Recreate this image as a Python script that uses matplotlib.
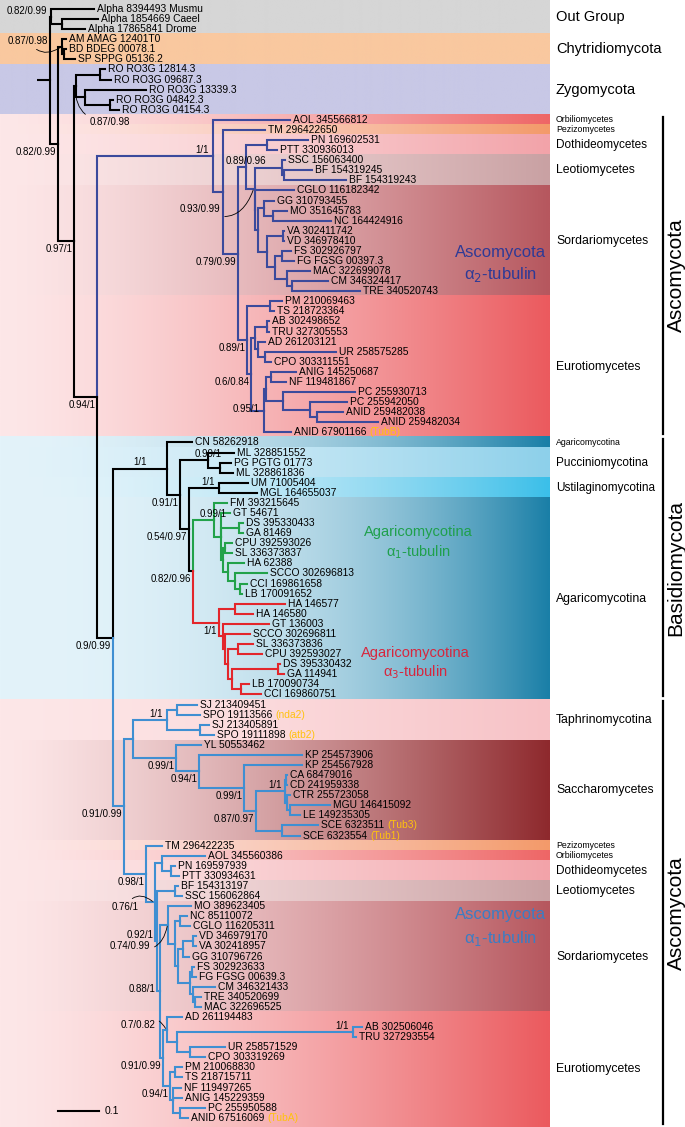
import numpy as np
import matplotlib
matplotlib.use('Agg')
import matplotlib.pyplot as plt
from matplotlib.colors import to_rgb

plt.rcParams['font.family'] = ['Liberation Sans', 'DejaVu Sans']

# ---- tree data (branch lengths in 0.001 substitutions/site) ----
OUTGROUP = "('Alpha 8394493 Musmu':105,('Alpha 1854669 Caeel':88,'Alpha 17865841 Drome':56)OG2:27)OG"
CHYTRID = "('AM AMAG 12401T0':10,('BD BDEG 00078.1':5,'SP SPPG 05136.2':27)CH2:5)CHY"
ZYGO = ("(('RO RO3G 12814.3':12,'RO RO3G 09687.3':27)Z1:59,"
        "('RO RO3G 13339.3':149,('RO RO3G 04842.3':7,'RO RO3G 04154.3':22)Z3:61)Z2:22)ZYG")

ASCO_A2 = ("('AOL 345566812':188,('TM 296422650':102,"
           "((('PN 169602531':100,'PTT 330936013':24)PNP:51,"
           "(('SSC 156063400':7,('BF 154319245':68,'BF 154319243':151)BFP:5)LEO:66,"
           "('CGLO 116182342':95,(('GG 310793455':24,('MO 351645783':32,'NC 164424916':141)MON:22)GGG:15,"
           "(('VA 302411742':2,'VD 346978410':2)VAV:39,(('FS 302926797':22,'FG FGSG 00397.3':29)FSF:17,"
           "('MAC 322699078':56,('CM 346324417':88,'TRE 340520743':166)CMT:12)MCG:29)F2:20)F1:22)S2:7)S1:2)L93:20)U:20,"
           "(('PM 210069463':29,'TS 218723364':10)PMT:56,"
           "((('AB 302498652':5,'TRU 327305553':5)ABT:29,('AD 261203121':17,('UR 258575285':173,'CPO 303311551':15)URC:17)AG2:7)AG:10,"
           "((('ANIG 145250687':63,'NF 119481867':37)ANF:10,('PC 255930713':176,('PC 255942050':90,"
           "('ANID 259482038':63,'ANID 259482034':149)PCC:17)PCB:66)PCG:41)AN1:5,'ANID 67901166':66)AN:32)E1:10)E0:22)A2C:37)A2B:24)A2")

BASIDIO = ("('CN 58262918':61,(('ML 328851552':63,('PG PGTG 01773':27,'ML 328861836':32)PGM:29)RUS:68,"
           "(('UM 71005404':71,'MGL 164655037':93)UST:73,"
           "(('FM 393215645':32,('GT 54671':24,('DS 395330433':10,'GA 81469':10)DSG:44,"
           "(('CPU 392593026':15,'SL 336373837':15)CPS:5,('HA 62388':39,('SCCO 302696813':78,"
           "('CCI 169861658':17,'LB 170091652':5)CLB:12)G4:17)G3:12)G2:7)G1:17)G0:49,"
           "(('HA 146577':120,'HA 146580':44)HAP:41,('GT 136003':110,('SCCO 302696811':61,"
           "(('SL 336373836':37,'CPU 392593027':59)SLC:24,(('DS 395330432':5,'GA 114941':15)DSG2:110,"
           "('LB 170090734':20,'CCI 169860751':49)LCC:20)RD4:10)RD3:7)RD2:5)RD1:12)RD0:61)AGA:12)B2:20)B1:32)B0")

TAPHRINA = ("(('SJ 213409451':49,'SPO 19113566':56)SJ1:24,"
            "('SJ 213405891':22,'SPO 19111898':34)SJ2:80)TAP:83")
SACCHARO = ("('YL 50553462':61,('KP 254573906':251,('KP 254567928':141,"
            "((('CA 68479016':2,'CD 241959338':2)CAD:2,('CTR 255723058':7,"
            "('MGU 146415092':98,'LE 149235305':24)MGL:7)CA2:5)CAN:71,"
            "('SCE 6323511':88,'SCE 6323554':44)SCE:63)SA3:29)SA2:110)SA1:56)SA0:105")
SORDARIO = ("('MO 389623405':54,(('NC 85110072':17,'CGLO 116205311':24)NCC:12,"
            "((('VD 346979170':7,'VA 302418957':7)VDV:24,'GG 310796726':15)VDG:12,"
            "(('FS 302923633':5,'FG FGSG 00639.3':10)FSF2:5,('CM 346321433':54,"
            "('TRE 340520699':15,'MAC 322696525':15)TRM:5)CTM:7)S4B:29)S3B:7)S2B:17)SORD:20")
EUROTIO = ("(('AD 261194483':37,(('AB 302506046':22,'TRU 327293554':7)ABT2:429,"
           "('UR 258571529':85,'CPO 303319269':37)URC2:32)E2B:24)E1B:10,"
           "(('PM 210068830':17,'TS 218715711':17)PMT2:12,('NF 119497265':20,'ANIG 145229359':22,"
           "('PC 255950588':61,'ANID 67516069':20)PCA:17)NAP:7)E3B:17)EURO:7")
PEZIZO_ETC = ("('TM 296422235':37,(('AOL 345560386':105,('PN 169597939':12,'PTT 330934631':20)PNP2:22)P2:17,"
              "(('BF 154313197':7,'SSC 156062864':15)LEO2:44,(" + SORDARIO + "," + EUROTIO + ")P4:7)P3:7)P1:20)P0:54")
ASCO_A1 = "((" + TAPHRINA + "," + SACCHARO + ")TSN:22," + PEZIZO_ETC + ")A0"

TREE = ("(" + OUTGROUP + ":2,(" + CHYTRID + ":10,(" + ZYGO + ":5,(" + ASCO_A2 + ":283,("
        + BASIDIO + ":132," + ASCO_A1 + ":27)R4:39)R3:56)R2:39)R1:20)ROOT:32")

TAGS = {'ANID 67901166': '(TubB)', 'SPO 19113566': '(nda2)', 'SPO 19111898': '(atb2)',
        'SCE 6323511': '(Tub3)', 'SCE 6323554': '(Tub1)', 'ANID 67516069': '(TubA)'}

SUPPORT = {
    'OG': '0.82/0.99', 'CHY': '0.87/0.98', 'R1': '0.82/0.99', 'ZYG': '0.87/0.98',
    'R2': '0.97/1', 'R3': '0.94/1', 'R4': '0.9/0.99',
    'A2': '1/1', 'U': '0.89/0.96', 'L93': '0.93/0.99', 'A2C': '0.79/0.99', 'E0': '0.89/1',
    'E1': '0.6/0.84', 'AN': '0.95/1',
    'B0': '1/1', 'RUS': '0.99/1', 'B1': '0.91/1', 'UST': '1/1', 'B2': '0.54/0.97',
    'G0': '0.99/1', 'AGA': '0.82/0.96', 'RD0': '1/1',
    'A0': '0.91/0.99', 'TAP': '1/1', 'SA0': '0.99/1', 'SA1': '0.94/1', 'SA2': '0.99/1',
    'CAN': '1/1', 'SA3': '0.87/0.97',
    'P0': '0.98/1', 'P1': '0.76/1', 'P3': '0.92/1', 'SORD': '0.74/0.99', 'P4': '0.88/1',
    'E1B': '0.7/0.82', 'EURO': '0.91/0.99', 'E3B': '0.94/1', 'ABT2': '1/1'}

BAND_NAMES = ['Out Group', 'Chytridiomycota', 'Zygomycota',
              'Orbiliomycetes', 'Pezizomycetes', 'Dothideomycetes', 'Leotiomycetes',
              'Sordariomycetes', 'Eurotiomycetes',
              'Agaricomycotina', 'Pucciniomycotina', 'Ustilaginomycotina', 'Agaricomycotina',
              'Taphrinomycotina', 'Saccharomycetes', 'Pezizomycetes', 'Orbiliomycetes',
              'Dothideomycetes', 'Leotiomycetes', 'Sordariomycetes', 'Eurotiomycetes']
BAND_LEAVES = [3, 3, 5, 1, 1, 2, 3, 11, 14, 1, 3, 2, 20, 4, 10, 1, 1, 2, 2, 11, 11]
PHYLA = ['Ascomycota', 'Basidiomycota', 'Ascomycota']
PHYLUM_BANDS = [(3, 8), (9, 12), (13, 20)]

# ---- styles ----
CLADE_COLOURS = {'A2': '#3b4a9c', 'A0': '#3f8fd2', 'G0': '#22a24a', 'RD0': '#e3262b'}
ASC_L, BAS_L = '#fde7e8', '#e3f3fa'
BAND_STYLE = [('#d6d6d6', '#d6d6d6', 1), ('#f9c89f', '#f9c89f', 1), ('#c8c8e6', '#c8c8e6', 1),
              (ASC_L, '#ee6666', 1.4), (ASC_L, '#f39a6a', 1.4), (ASC_L, '#f2a3a9', 1.4),
              (ASC_L, '#c9a1a3', 1.4), (ASC_L, '#b6575e', 1.4), (ASC_L, '#eb5a5e', 1.4),
              (BAS_L, '#1a7fa7', 2.0), (BAS_L, '#8dd0ea', 1.5), (BAS_L, '#3bbfe9', 2.0),
              (BAS_L, '#1a7fa7', 2.5),
              (ASC_L, '#f7c2c6', 1.4), (ASC_L, '#8e292d', 1.4), (ASC_L, '#f39a6a', 1.4),
              (ASC_L, '#ee6666', 1.4), (ASC_L, '#f2a3a9', 1.4), (ASC_L, '#c9a1a3', 1.4),
              (ASC_L, '#b6575e', 1.4), (ASC_L, '#eb5a5e', 1.4)]
BAND_FONT = [10.5, 10.5, 10.5, 6.3, 6.3, 8.5, 8.8, 8.8, 8.8, 6.3, 8.5, 8.5, 8.8,
             8.8, 8.8, 6.3, 6.3, 8.5, 8.8, 8.8, 8.8]
PLACE = {'OG': 'ul', 'A2': 'ul', 'UST': 'ul', 'TAP': 'ul', 'CAN': 'ul', 'ABT2': 'ul', 'P3': 'ul',
         'U': 'c', 'RUS': 'c', 'G0': 'c', 'B0': 'stem', 'AN': 'l', 'P4': 'l'}
CURVED = {'CHY': (-14, -6, 0.5), 'ZYG': (13, 36, -0.5), 'L93': (-34, 20, 0.6),
          'P1': (-16, 5, -0.6), 'SORD': (-18, 21, 0.6), 'E1B': (-12, -5, -0.6)}
LEAF_FS, SUPPORT_FS = 7.4, 7.0

W, H = 685, 1127
PX_PER_UNIT = 0.41      # pixels per 0.001 substitutions
ROOT_X = 50
ROW0, ROW_STEP = 9, 10.08
BAND_END = 550


def parse(s):
    pos = 0

    def node():
        nonlocal pos
        n = {'children': [], 'name': '', 'length': 0.0}
        if s[pos] == '(':
            pos += 1
            while True:
                n['children'].append(node())
                ch = s[pos]
                pos += 1
                if ch == ')':
                    break
        if pos < len(s) and s[pos] == "'":
            end = s.index("'", pos + 1)
            n['name'] = s[pos + 1:end]
            pos = end + 1
        else:
            start = pos
            while pos < len(s) and s[pos] not in ":,()":
                pos += 1
            n['name'] = s[start:pos]
        if pos < len(s) and s[pos] == ':':
            pos += 1
            start = pos
            while pos < len(s) and s[pos] not in ",()":
                pos += 1
            n['length'] = float(s[start:pos])
        return n
    return node()


leaves = []


def place(n, x, colour):
    n['x'] = x
    n['colour'] = CLADE_COLOURS.get(n['name'], colour)
    if n['children']:
        for c in n['children']:
            place(c, x + c['length'] * PX_PER_UNIT, n['colour'])
        n['y'] = (n['children'][0]['y'] + n['children'][-1]['y']) / 2
    else:
        n['y'] = ROW0 + len(leaves) * ROW_STEP
        leaves.append(n)


root = parse(TREE)
place(root, ROOT_X, 'black')

fig = plt.figure(figsize=(W / 100, H / 100), dpi=100)
ax = fig.add_axes([0, 0, 1, 1])
ax.axis('off')


def gradient(left, right, gamma):
    t = np.linspace(0, 1, 256) ** gamma
    l, r = np.array(to_rgb(left)), np.array(to_rgb(right))
    return (l[None, :] * (1 - t[:, None]) + r[None, :] * t[:, None])[None, :, :]


# background bands
edges = []
start = 0
for i, (name, n) in enumerate(zip(BAND_NAMES, BAND_LEAVES)):
    y0 = 0 if i == 0 else ROW0 + (start - 0.5) * ROW_STEP
    y1 = H if i == len(BAND_NAMES) - 1 else ROW0 + (start + n - 0.5) * ROW_STEP
    edges.append((y0, y1))
    left, right, gam = BAND_STYLE[i]
    ax.imshow(gradient(left, right, gam), extent=(0, BAND_END, y1, y0), aspect='auto',
              interpolation='bilinear', zorder=0)
    ax.text(556, (y0 + y1) / 2, name, fontsize=BAND_FONT[i], va='center', ha='left')
    start += n

for name, (a, b) in zip(PHYLA, PHYLUM_BANDS):
    y0, y1 = edges[a][0] + 2, edges[b][1] - 3
    ax.plot([663, 663], [y0, y1], color='black', lw=1.6)
    ax.text(676, (y0 + y1) / 2, name, rotation=90, fontsize=15, ha='center', va='center')


def support_label(n, parent):
    lab = SUPPORT.get(n['name'])
    if not lab:
        return
    x, y = n['x'], n['y']
    kw = dict(fontsize=SUPPORT_FS, va='center', zorder=4)
    if n['name'] in CURVED:
        dx, dy, rad = CURVED[n['name']]
        ax.annotate(lab, xy=(x - 1, y), xytext=(x + dx, y + dy), textcoords='data',
                    ha='left' if dx > 0 else 'right',
                    arrowprops=dict(arrowstyle='-', lw=0.6, color='black',
                                    connectionstyle='arc3,rad=%s' % rad,
                                    shrinkA=1, shrinkB=1), **kw)
        return
    style = PLACE.get(n['name'], 'll')
    if style == 'll':
        ax.text(x - 2, y + 8, lab, ha='right', **kw)
    elif style == 'ul':
        ax.text(x - 4, y - 6, lab, ha='right', **kw)
    elif style == 'c':
        ax.text(x, y - 6, lab, ha='center', **kw)
    elif style == 'stem':
        ax.text((parent['x'] + x) / 2, y - 7, lab, ha='center', **kw)
    elif style == 'l':
        ax.text(x - 5, y - 2, lab, ha='right', **kw)


def draw(n, parent=None):
    for c in n['children']:
        ax.plot([n['x'], n['x'], c['x']], [n['y'], c['y'], c['y']], color=c['colour'],
                lw=1.5, solid_capstyle='projecting', solid_joinstyle='miter', zorder=2)
        draw(c, n)
    if not n['children']:
        t = ax.text(n['x'] + 3, n['y'], n['name'], fontsize=LEAF_FS, va='center', ha='left', zorder=3)
        if n['name'] in TAGS:
            ax.annotate(TAGS[n['name']], xy=(1, 0.5), xycoords=t, xytext=(2, 0),
                        textcoords='offset points', va='center', ha='left',
                        fontsize=LEAF_FS, color='#ffc20e', zorder=3)
    support_label(n, parent)


ax.plot([ROOT_X - root['length'] * PX_PER_UNIT, ROOT_X], [root['y'], root['y']],
        color='black', lw=1.5, solid_capstyle='butt')
draw(root)

# clade annotations
notes = [('Ascomycota', 'α$_2$-tubulin', '#2e3a96', 501, 252, 275, 12),
         ('Agaricomycotina', 'α$_1$-tubulin', '#1fa04c', 418, 532, 552, 10.5),
         ('Agaricomycotina', 'α$_3$-tubulin', '#d7263d', 415, 653, 672, 10.5),
         ('Ascomycota', 'α$_1$-tubulin', '#3b7dc4', 501, 915, 938, 12)]
for l1, l2, col, x, ya, yb, fs in notes:
    ax.text(x, ya, l1, color=col, fontsize=fs, ha='center', va='center', zorder=4)
    ax.text(x, yb, l2, color=col, fontsize=fs, ha='center', va='center', zorder=4)

# scale bar
SCALE = 0.1
ax.plot([58, 58 + SCALE * 1000 * PX_PER_UNIT], [1111, 1111], color='black', lw=1.5)
ax.text(58 + SCALE * 1000 * PX_PER_UNIT + 6, 1111, '0.1', fontsize=7.5, va='center')

ax.set_xlim(0, W)
ax.set_ylim(H, 0)
fig.savefig('out.png', dpi=100)
